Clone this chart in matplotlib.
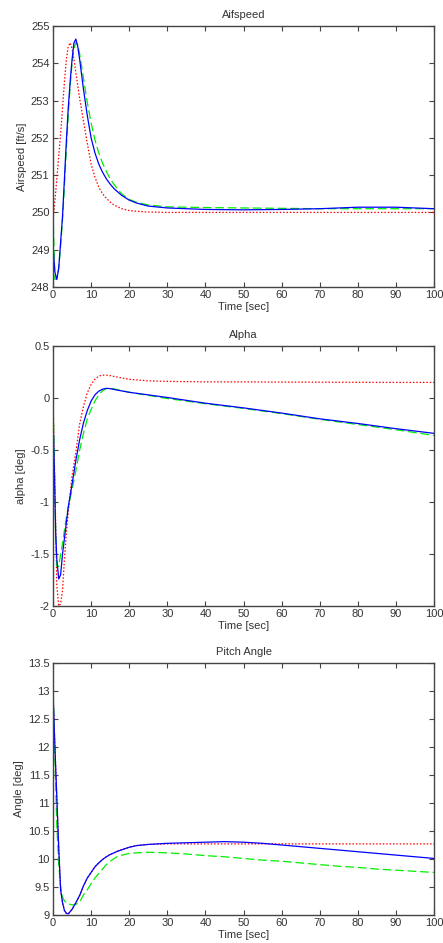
import matplotlib
matplotlib.use("Agg")
import matplotlib.pyplot as plt

plt.rcParams['font.family'] = ['Liberation Sans', 'DejaVu Sans']

# ---- Airspeed ----
t_air = [0, 0.5, 1, 1.5, 2, 2.5, 3, 3.5, 4, 4.5, 5, 5.5, 6, 6.5, 7, 8, 9, 10, 11, 12,
         13, 14, 15, 16, 18, 20, 22, 25, 30, 35, 40, 50, 60, 70, 80, 90, 100]
air_blue = [249.1, 248.4, 248.2, 248.5, 249.2, 249.9, 250.9, 251.9, 252.8, 253.5, 254.1,
            254.55, 254.65, 254.45, 254.1, 253.3, 252.6, 252.0, 251.6, 251.3, 251.08,
            250.9, 250.76, 250.64, 250.46, 250.33, 250.25, 250.17, 250.12, 250.1, 250.08,
            250.07, 250.08, 250.1, 250.14, 250.14, 250.1]
air_green = [250.0, 248.2, 248.25, 248.5, 249.1, 249.8, 250.7, 251.7, 252.6, 253.4, 254.0,
             254.4, 254.55, 254.5, 254.25, 253.6, 252.95, 252.4, 251.95, 251.6, 251.32,
             251.1, 250.9, 250.75, 250.5, 250.35, 250.27, 250.2, 250.15, 250.14, 250.13,
             250.12, 250.11, 250.1, 250.1, 250.1, 250.1]
air_red = [249.8, 250.3, 250.9, 251.5, 252.1, 252.8, 253.5, 254.1, 254.45, 254.55, 254.4,
           254.1, 253.75, 253.4, 253.05, 252.45, 251.85, 251.3, 250.95, 250.68, 250.5,
           250.38, 250.28, 250.2, 250.1, 250.05, 250.03, 250.01, 250.0, 250.0, 250.0,
           250.0, 250.0, 250.0, 250.0, 250.0, 250.0]

# ---- Alpha ----
t_alpha = [0, 0.3, 0.7, 1, 1.5, 2, 2.5, 3, 3.5, 4, 5, 6, 7, 8, 9, 10, 11, 12, 13, 14, 15,
           17, 20, 25, 30, 40, 50, 60, 70, 80, 90, 100]
alpha_blue = [-0.15, -0.6, -1.3, -1.55, -1.74, -1.7, -1.5, -1.35, -1.2, -1.05, -0.83, -0.6,
              -0.4, -0.24, -0.12, -0.03, 0.03, 0.065, 0.085, 0.093, 0.09, 0.075, 0.055,
              0.03, 0.005, -0.05, -0.095, -0.145, -0.2, -0.245, -0.295, -0.34]
alpha_green = [0.0, -0.5, -1.3, -1.62, -1.62, -1.5, -1.4, -1.27, -1.15, -1.05, -0.88, -0.7,
               -0.5, -0.34, -0.2, -0.11, -0.03, 0.03, 0.07, 0.09, 0.095, 0.08, 0.055,
               0.025, -0.005, -0.055, -0.1, -0.15, -0.205, -0.255, -0.305, -0.36]
alpha_red = [0.0, -0.5, -1.2, -1.8, -2.0, -1.98, -1.85, -1.55, -1.3, -1.1, -0.75, -0.52,
             -0.25, -0.08, 0.05, 0.13, 0.18, 0.21, 0.22, 0.22, 0.215, 0.2, 0.18, 0.165,
             0.16, 0.155, 0.155, 0.153, 0.152, 0.151, 0.15, 0.15]

# ---- Pitch angle ----
t_pitch = [0, 0.5, 1, 1.5, 2, 2.5, 3, 3.5, 4, 5, 6, 7, 8, 9, 10, 11, 12, 13, 14, 15, 17,
           20, 22, 25, 30, 35, 40, 45, 50, 55, 60, 65, 70, 75, 80, 85, 90, 95, 100]
pitch_blue = [13.0, 12.0, 11.1, 10.2, 9.45, 9.22, 9.08, 9.03, 9.02, 9.1, 9.22, 9.35, 9.52,
              9.66, 9.76, 9.86, 9.93, 9.99, 10.04, 10.08, 10.14, 10.21, 10.24, 10.26,
              10.28, 10.29, 10.3, 10.31, 10.3, 10.28, 10.25, 10.22, 10.19, 10.16, 10.13,
              10.1, 10.07, 10.04, 10.01]
pitch_green = [13.15, 11.8, 10.6, 9.9, 9.5, 9.32, 9.25, 9.22, 9.2, 9.18, 9.19, 9.23, 9.36,
               9.45, 9.56, 9.66, 9.74, 9.82, 9.9, 9.96, 10.05, 10.1, 10.11, 10.12, 10.11,
               10.09, 10.06, 10.04, 10.01, 9.98, 9.96, 9.93, 9.9, 9.87, 9.85, 9.82, 9.8,
               9.78, 9.76]
pitch_red = [13.0, 12.0, 11.1, 10.2, 9.45, 9.22, 9.08, 9.03, 9.02, 9.1, 9.22, 9.35, 9.52,
             9.66, 9.76, 9.86, 9.93, 9.99, 10.04, 10.08, 10.14, 10.21, 10.24, 10.26,
             10.27, 10.27, 10.27, 10.27, 10.27, 10.27, 10.27, 10.27, 10.27, 10.27, 10.27,
             10.27, 10.27, 10.27, 10.27]

x_ticks = list(range(0, 101, 10))
air_yticks = [248, 249, 250, 251, 252, 253, 254, 255]
alpha_yticks = [-2, -1.5, -1, -0.5, 0, 0.5]
alpha_ylabels = ['-2', '-1.5', '-1', '-0.5', '0', '0.5']
pitch_yticks = [9, 9.5, 10, 10.5, 11, 11.5, 12, 12.5, 13, 13.5]
pitch_ylabels = ['9', '9.5', '10', '10.5', '11', '11.5', '12', '12.5', '13', '13.5']

_TXT = '#333333'
_AX = '#444444'


def style_axes(ax, title, ylabel, ylim, yticks, ylabels=None):
    ax.set_xlim(0, 100)
    ax.set_ylim(*ylim)
    ax.set_xticks(x_ticks)
    ax.set_yticks(yticks)
    if ylabels is not None:
        ax.set_yticklabels(ylabels)
    ax.tick_params(direction='in', top=True, right=True, length=3.5, width=0.8,
                   labelsize=8, colors=_AX, labelcolor=_TXT, pad=2.5)
    for s in ax.spines.values():
        s.set_color(_AX)
        s.set_linewidth(1.0)
    ax.set_title(title, fontsize=8, color=_TXT, pad=6)
    ax.set_xlabel('Time [sec]', fontsize=8, color=_TXT, labelpad=1)
    ax.set_ylabel(ylabel, fontsize=8, color=_TXT, labelpad=3)


def draw(ax, t, blue, green, red):
    ax.plot(t, red, color='#ff0000', linestyle=(0, (1.2, 1.5)), linewidth=0.9)
    ax.plot(t, green, color='#00ee00', linestyle=(0, (7, 3)), linewidth=0.9)
    ax.plot(t, blue, color='#0000ff', linestyle='-', linewidth=0.9)


fig = plt.figure(figsize=(4.43, 9.43), dpi=100)
left, width = 53 / 443, 381 / 443
ax1 = fig.add_axes([left, 1 - 287 / 943, width, 261 / 943])
ax2 = fig.add_axes([left, 1 - 606 / 943, width, 260 / 943])
ax3 = fig.add_axes([left, 1 - 915 / 943, width, 252 / 943])

draw(ax1, t_air, air_blue, air_green, air_red)
style_axes(ax1, 'Aifspeed', 'Airspeed [ft/s]', (248, 255), air_yticks)

draw(ax2, t_alpha, alpha_blue, alpha_green, alpha_red)
style_axes(ax2, 'Alpha', 'alpha [deg]', (-2, 0.5), alpha_yticks, alpha_ylabels)

draw(ax3, t_pitch, pitch_blue, pitch_green, pitch_red)
style_axes(ax3, 'Pitch Angle', 'Angle [deg]', (9, 13.5), pitch_yticks, pitch_ylabels)

fig.savefig('out.png', dpi=100)
